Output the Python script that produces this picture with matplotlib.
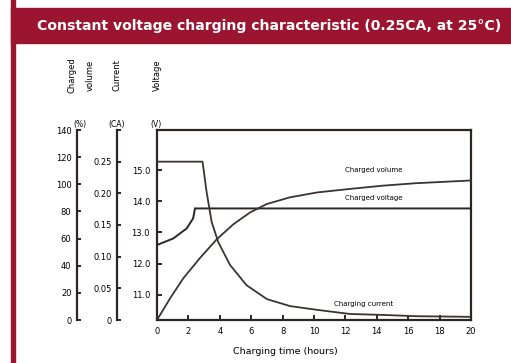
import matplotlib.pyplot as plt
from matplotlib.patches import Rectangle

# charging time (hours)
t_current = [0, 2.9, 3.16, 3.48, 3.9, 4.65, 5.7, 7.0, 8.47, 10.2, 12.3, 14.4, 16.5, 20]
current = [0.25, 0.25, 0.202, 0.155, 0.123, 0.087, 0.055, 0.033, 0.022, 0.016, 0.0095, 0.008, 0.006, 0.005]

t_voltage = [0, 1.04, 1.89, 2.3, 2.42, 20]
voltage = [12.6, 12.81, 13.13, 13.45, 13.77, 13.77]

t_volume = [0, 0.83, 1.68, 2.74, 3.8, 4.86, 5.92, 6.98, 8.47, 10.2, 12.3, 14.4, 16.5, 20]
volume = [0, 15.9, 30.8, 45.7, 59.4, 70.5, 79.2, 85.4, 90.4, 94, 96.6, 99, 100.8, 102.8]

x_ticks = list(range(0, 21, 2))
volume_ticks = list(range(0, 141, 20))
current_ticks = [0, 0.05, 0.10, 0.15, 0.20, 0.25, 0.30]
current_labels = ['0', '0.05', '0.10', '0.15', '0.20', '0.25', '']
voltage_ticks = [11.0, 12.0, 13.0, 14.0, 15.0]

title = 'Constant voltage charging characteristic (0.25CA, at 25\u00b0C)'
dark = '#2b2523'
red = '#9b1530'

fig = plt.figure(figsize=(5.11, 3.63), dpi=100)
fig.patch.set_facecolor('white')

# title band and left border
fig.patches.append(Rectangle((11 / 511, 1 - 43 / 363), 1, 35 / 363, transform=fig.transFigure,
                             color=red, zorder=0))
fig.patches.append(Rectangle((11 / 511, 0), 4 / 511, 1, transform=fig.transFigure,
                             color=red, zorder=0))
fig.text(37 / 511, 1 - 26 / 363, title, color='white', fontsize=10.1, fontweight='bold',
         va='center', ha='left')

rect = [157 / 511, 43 / 363, 314 / 511, 190 / 363]
ax = fig.add_axes(rect)
ax.set_xlim(0, 20)
ax.set_ylim(10.2, 16.28)
for s in ax.spines.values():
    s.set_color(dark)
    s.set_linewidth(1.6)
ax.set_xticks(x_ticks)
ax.set_yticks(voltage_ticks)
ax.set_yticklabels(['%.1f' % v for v in voltage_ticks])
ax.tick_params(direction='in', length=3.5, width=1.4, color=dark, labelsize=6, pad=5)
ax.plot(t_voltage, voltage, color=dark, lw=1.4, solid_joinstyle='miter')

ax_vol = ax.twinx()
ax_vol.set_ylim(0, 140)
ax_vol.plot(t_volume, volume, color='#3a3432', lw=1.3)
ax_cur = ax.twinx()
ax_cur.set_ylim(0, 0.30)
ax_cur.plot(t_current, current, color='#3a3432', lw=1.3)

for a, pos, ticks, labels in [(ax_vol, -80 / 314, volume_ticks, [str(v) for v in volume_ticks]),
                              (ax_cur, -40 / 314, current_ticks, current_labels)]:
    a.patch.set_visible(False)
    for side in ['right', 'top', 'bottom']:
        a.spines[side].set_visible(False)
    a.spines['left'].set_visible(True)
    a.spines['left'].set_position(('axes', pos))
    a.spines['left'].set_color(dark)
    a.spines['left'].set_linewidth(1.6)
    a.yaxis.set_ticks_position('left')
    a.set_yticks(ticks)
    a.set_yticklabels(labels)
    a.tick_params(direction='in', length=3, width=1.4, color=dark, labelsize=6, pad=4)

ax.text(12.0, 15.0, 'Charged volume', fontsize=5, va='center')
ax.text(12.0, 14.1, 'Charged voltage', fontsize=5, va='center')
ax.text(11.3, 10.7, 'Charging current', fontsize=5, va='center')

fig.text(285 / 511, 1 - 352 / 363, 'Charging time (hours)', fontsize=6.8, ha='center', va='center')

# axis headers
hy = 1 - 75 / 363
for x, label in [(72, 'Charged'), (90, 'volume'), (117, 'Current'), (157, 'Voltage')]:
    fig.text(x / 511, hy, label, rotation=90, fontsize=6, ha='center', va='center')
uy = 1 - 124 / 363
fig.text(80 / 511, uy, '(%)', fontsize=5.5, ha='center', va='center')
fig.text(117 / 511, uy, '(CA)', fontsize=5.5, ha='center', va='center')
fig.text(156 / 511, uy, '(V)', fontsize=5.5, ha='center', va='center')

fig.savefig('out.png', dpi=100)
